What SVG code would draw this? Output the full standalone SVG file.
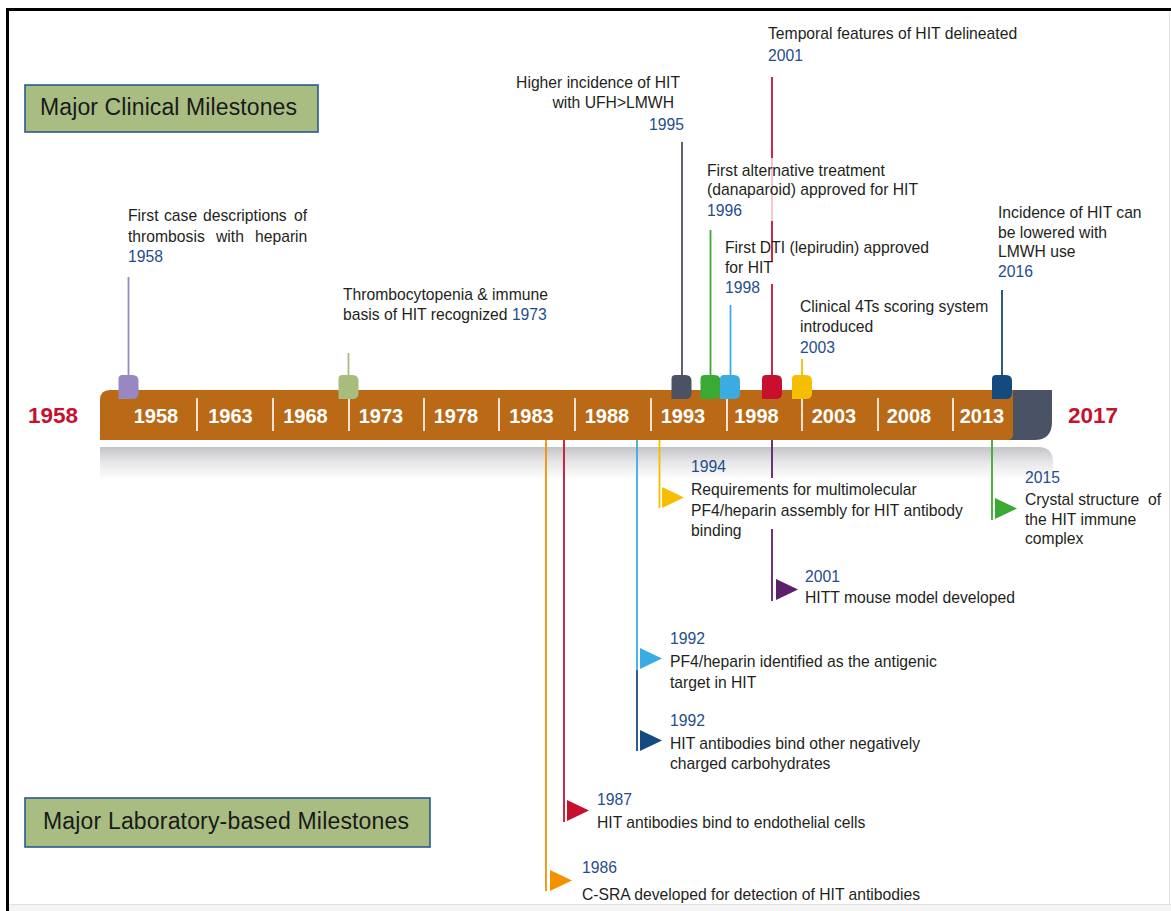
<svg xmlns="http://www.w3.org/2000/svg" width="1171" height="911" viewBox="0 0 1171 911">
<defs>
<style>
text{font-family:"Liberation Sans",Arial,"Helvetica",sans-serif;}
.t{font-size:15.7px;fill:#231F20;}
.y{font-size:15.7px;fill:#1F4E8C;}
.bar{font-size:20px;font-weight:bold;fill:#FFFFFF;}
.big{font-size:22.5px;font-weight:bold;fill:#C4122F;}
.lbl{font-size:23px;fill:#1A1A1A;}
.box{fill:#A9BD82;stroke:#2A5B8C;stroke-width:1.6;}
.sep{stroke:#FFFFFF;stroke-width:1.6;}
.c{fill:none;stroke-width:1.8;}
</style>
<linearGradient id="shadow" x1="0" y1="0" x2="0" y2="1">
<stop offset="0" stop-color="#C4C4C6"/>
<stop offset="0.45" stop-color="#E6E6E8"/>
<stop offset="1" stop-color="#FFFFFF"/>
</linearGradient>
<path id="mk" d="M4,0 H14 Q20,0 20,6 V18 Q20,24 14,24 H0 V4 Q0,0 4,0 Z"/>
<path id="tri" d="M0,0 L22,10.5 L0,21 Z"/>
</defs>
<rect x="0" y="0" width="1171" height="911" fill="#FFFFFF"/>
<!-- frame -->
<rect x="9" y="904" width="1162" height="7" fill="#F4F4F4"/>
<line x1="9" y1="904.5" x2="1171" y2="904.5" stroke="#E2E2E2" stroke-width="1"/>
<line x1="1169.5" y1="11" x2="1169.5" y2="904" stroke="#E6E6E6" stroke-width="1"/>
<path d="M7.5,911 V9.5 H1171" fill="none" stroke="#000000" stroke-width="3"/>

<!-- timeline bar -->
<g id="timeline">
<path d="M100,447 H1038 Q1053,447 1053,462 V480 H100 Z" fill="url(#shadow)"/>
<path d="M995,390 H1052 V422 Q1052,440 1034,440 H995 Z" fill="#4A5366"/>
<path d="M110,390 H1013 V434 Q1013,440 1007,440 H100 V400 Q100,390 110,390 Z" fill="#BA6A17"/>
<line class="sep" x1="197" y1="398" x2="197" y2="431"/>
<line class="sep" x1="273" y1="398" x2="273" y2="431"/>
<line class="sep" x1="349" y1="398" x2="349" y2="431"/>
<line class="sep" x1="424" y1="398" x2="424" y2="431"/>
<line class="sep" x1="499" y1="398" x2="499" y2="431"/>
<line class="sep" x1="575" y1="398" x2="575" y2="431"/>
<line class="sep" x1="651" y1="398" x2="651" y2="431"/>
<line class="sep" x1="727" y1="398" x2="727" y2="431"/>
<line class="sep" x1="802" y1="398" x2="802" y2="431"/>
<line class="sep" x1="878" y1="398" x2="878" y2="431"/>
<line class="sep" x1="953" y1="398" x2="953" y2="431"/>
<g text-anchor="middle">
<text class="bar" x="156" y="423">1958</text>
<text class="bar" x="230.5" y="423">1963</text>
<text class="bar" x="305.5" y="423">1968</text>
<text class="bar" x="381" y="423">1973</text>
<text class="bar" x="456" y="423">1978</text>
<text class="bar" x="531.5" y="423">1983</text>
<text class="bar" x="607" y="423">1988</text>
<text class="bar" x="683" y="423">1993</text>
<text class="bar" x="756.5" y="423">1998</text>
<text class="bar" x="834" y="423">2003</text>
<text class="bar" x="909" y="423">2008</text>
<text class="bar" x="982" y="423">2013</text>
</g>
<text class="big" x="28" y="423">1958</text>
<text class="big" x="1068" y="423">2017</text>
</g>

<!-- connectors -->
<g id="connectors">
<line class="c" stroke="#9887C0" x1="128.5" y1="277" x2="128.5" y2="377"/>
<line class="c" stroke="#A8BC7E" x1="348.5" y1="353" x2="348.5" y2="377"/>
<line class="c" stroke="#4B5263" x1="682" y1="142" x2="682" y2="377"/>
<line class="c" stroke="#3AAA35" x1="710.5" y1="230" x2="710.5" y2="377"/>
<line class="c" stroke="#3AACE2" x1="730.5" y1="305" x2="730.5" y2="377"/>
<line class="c" stroke="#C8102E" x1="772" y1="77" x2="772" y2="158"/>
<line class="c" stroke="#C8102E" stroke-opacity="0.25" x1="772" y1="158" x2="772" y2="221"/>
<line class="c" stroke="#C8102E" x1="772" y1="221" x2="772" y2="262"/>
<line class="c" stroke="#C8102E" x1="772" y1="284" x2="772" y2="377"/>
<line class="c" stroke="#F6BE00" x1="802" y1="359" x2="802" y2="377"/>
<line class="c" stroke="#154A80" x1="1002" y1="290" x2="1002" y2="377"/>

<line class="c" stroke="#F39200" x1="546" y1="440" x2="546" y2="891"/>
<line class="c" stroke="#C8102E" x1="564" y1="440" x2="564" y2="822"/>
<line class="c" stroke="#3AACE2" x1="637" y1="440" x2="637" y2="670"/>
<line class="c" stroke="#1A4A80" x1="637" y1="670" x2="637" y2="751"/>
<line class="c" stroke="#F6BE00" x1="659.5" y1="440" x2="659.5" y2="508"/>
<line class="c" stroke="#5C1F6B" x1="772" y1="440" x2="772" y2="478"/>
<line class="c" stroke="#5C1F6B" x1="772" y1="529" x2="772" y2="601"/>
<line class="c" stroke="#3AAA35" x1="992" y1="440" x2="992" y2="520"/>
</g>

<!-- label boxes -->
<g id="box-clinical">
<rect class="box" x="25" y="85" width="293" height="47"/>
<text class="lbl" x="40" y="115" textLength="257" lengthAdjust="spacing">Major Clinical Milestones</text>
</g>
<g id="box-lab">
<rect class="box" x="25" y="798" width="405" height="49"/>
<text class="lbl" x="43" y="829" textLength="366" lengthAdjust="spacing">Major Laboratory-based Milestones</text>
</g>

<!-- top milestones -->
<g id="m1958">
<use href="#mk" x="118.5" y="375" fill="#9887C0"/>
<text class="t" y="221"><tspan x="128">First</tspan><tspan x="164">case</tspan><tspan x="203">descriptions</tspan><tspan x="294">of</tspan></text>
<text class="t" y="242"><tspan x="128">thrombosis</tspan><tspan x="216">with</tspan><tspan x="255">heparin</tspan></text>
<text class="y" x="128" y="262">1958</text>
</g>
<g id="m1973">
<use href="#mk" x="338.5" y="375" fill="#A8BC7E"/>
<text class="t" x="343" y="300">Thrombocytopenia &amp; immune</text>
<text class="t" x="343" y="320">basis of HIT recognized <tspan class="y">1973</tspan></text>
</g>
<g id="m1995">
<use href="#mk" x="671.5" y="375" fill="#4B5263"/>
<text class="t" x="680" y="88" text-anchor="end">Higher incidence of HIT</text>
<text class="t" x="674" y="108" text-anchor="end">with UFH&gt;LMWH</text>
<text class="y" x="684" y="130" text-anchor="end">1995</text>
</g>
<g id="m1996">
<use href="#mk" x="700.5" y="375" fill="#3AAA35"/>
<text class="t" x="707" y="176">First alternative treatment</text>
<text class="t" x="707" y="195">(danaparoid) approved for HIT</text>
<text class="y" x="707" y="216">1996</text>
</g>
<g id="m1998">
<use href="#mk" x="720" y="375" fill="#3AACE2"/>
<text class="t" x="725" y="253">First DTI (lepirudin) approved</text>
<text class="t" x="725" y="273">for HIT</text>
<text class="y" x="725" y="293">1998</text>
</g>
<g id="m2001">
<use href="#mk" x="762" y="375" fill="#C8102E"/>
<text class="t" x="768" y="39">Temporal features of HIT delineated</text>
<text class="y" x="768" y="61">2001</text>
</g>
<g id="m2003">
<use href="#mk" x="792" y="375" fill="#F6BE00"/>
<text class="t" x="800" y="312">Clinical 4Ts scoring system</text>
<text class="t" x="800" y="332">introduced</text>
<text class="y" x="800" y="353">2003</text>
</g>
<g id="m2016">
<use href="#mk" x="992" y="375" fill="#154A80"/>
<text class="t" x="998" y="218">Incidence of HIT can</text>
<text class="t" x="998" y="238">be lowered with</text>
<text class="t" x="998" y="257">LMWH use</text>
<text class="y" x="998" y="277">2016</text>
</g>

<!-- bottom milestones -->
<g id="l1986">
<use href="#tri" x="550" y="870" fill="#F39200"/>
<text class="y" x="582" y="873">1986</text>
<text class="t" x="582" y="900">C-SRA developed for detection of HIT antibodies</text>
</g>
<g id="l1987">
<use href="#tri" x="567" y="800" fill="#C8102E"/>
<text class="y" x="597" y="805">1987</text>
<text class="t" x="597" y="828">HIT antibodies bind to endothelial cells</text>
</g>
<g id="l1992a">
<use href="#tri" x="640" y="648" fill="#3AACE2"/>
<text class="y" x="670" y="644">1992</text>
<text class="t" x="670" y="667">PF4/heparin identified as the antigenic</text>
<text class="t" x="670" y="688">target in HIT</text>
</g>
<g id="l1992b">
<use href="#tri" x="640" y="730" fill="#154A80"/>
<text class="y" x="670" y="726">1992</text>
<text class="t" x="670" y="749">HIT antibodies bind other negatively</text>
<text class="t" x="670" y="769">charged carbohydrates</text>
</g>
<g id="l1994">
<use href="#tri" x="662" y="487" fill="#F6BE00"/>
<text class="y" x="691" y="472">1994</text>
<text class="t" x="691" y="495">Requirements for multimolecular</text>
<text class="t" x="691" y="516">PF4/heparin assembly for HIT antibody</text>
<text class="t" x="691" y="536">binding</text>
</g>
<g id="l2001">
<use href="#tri" x="776" y="579" fill="#5C1F6B"/>
<text class="y" x="805" y="582">2001</text>
<text class="t" x="805" y="603">HITT mouse model developed</text>
</g>
<g id="l2015">
<use href="#tri" x="995" y="498" fill="#3AAA35"/>
<text class="y" x="1025" y="483">2015</text>
<text class="t" x="1025" y="505">Crystal structure&#160; of</text>
<text class="t" x="1025" y="525">the HIT immune</text>
<text class="t" x="1025" y="544">complex</text>
</g>
</svg>
